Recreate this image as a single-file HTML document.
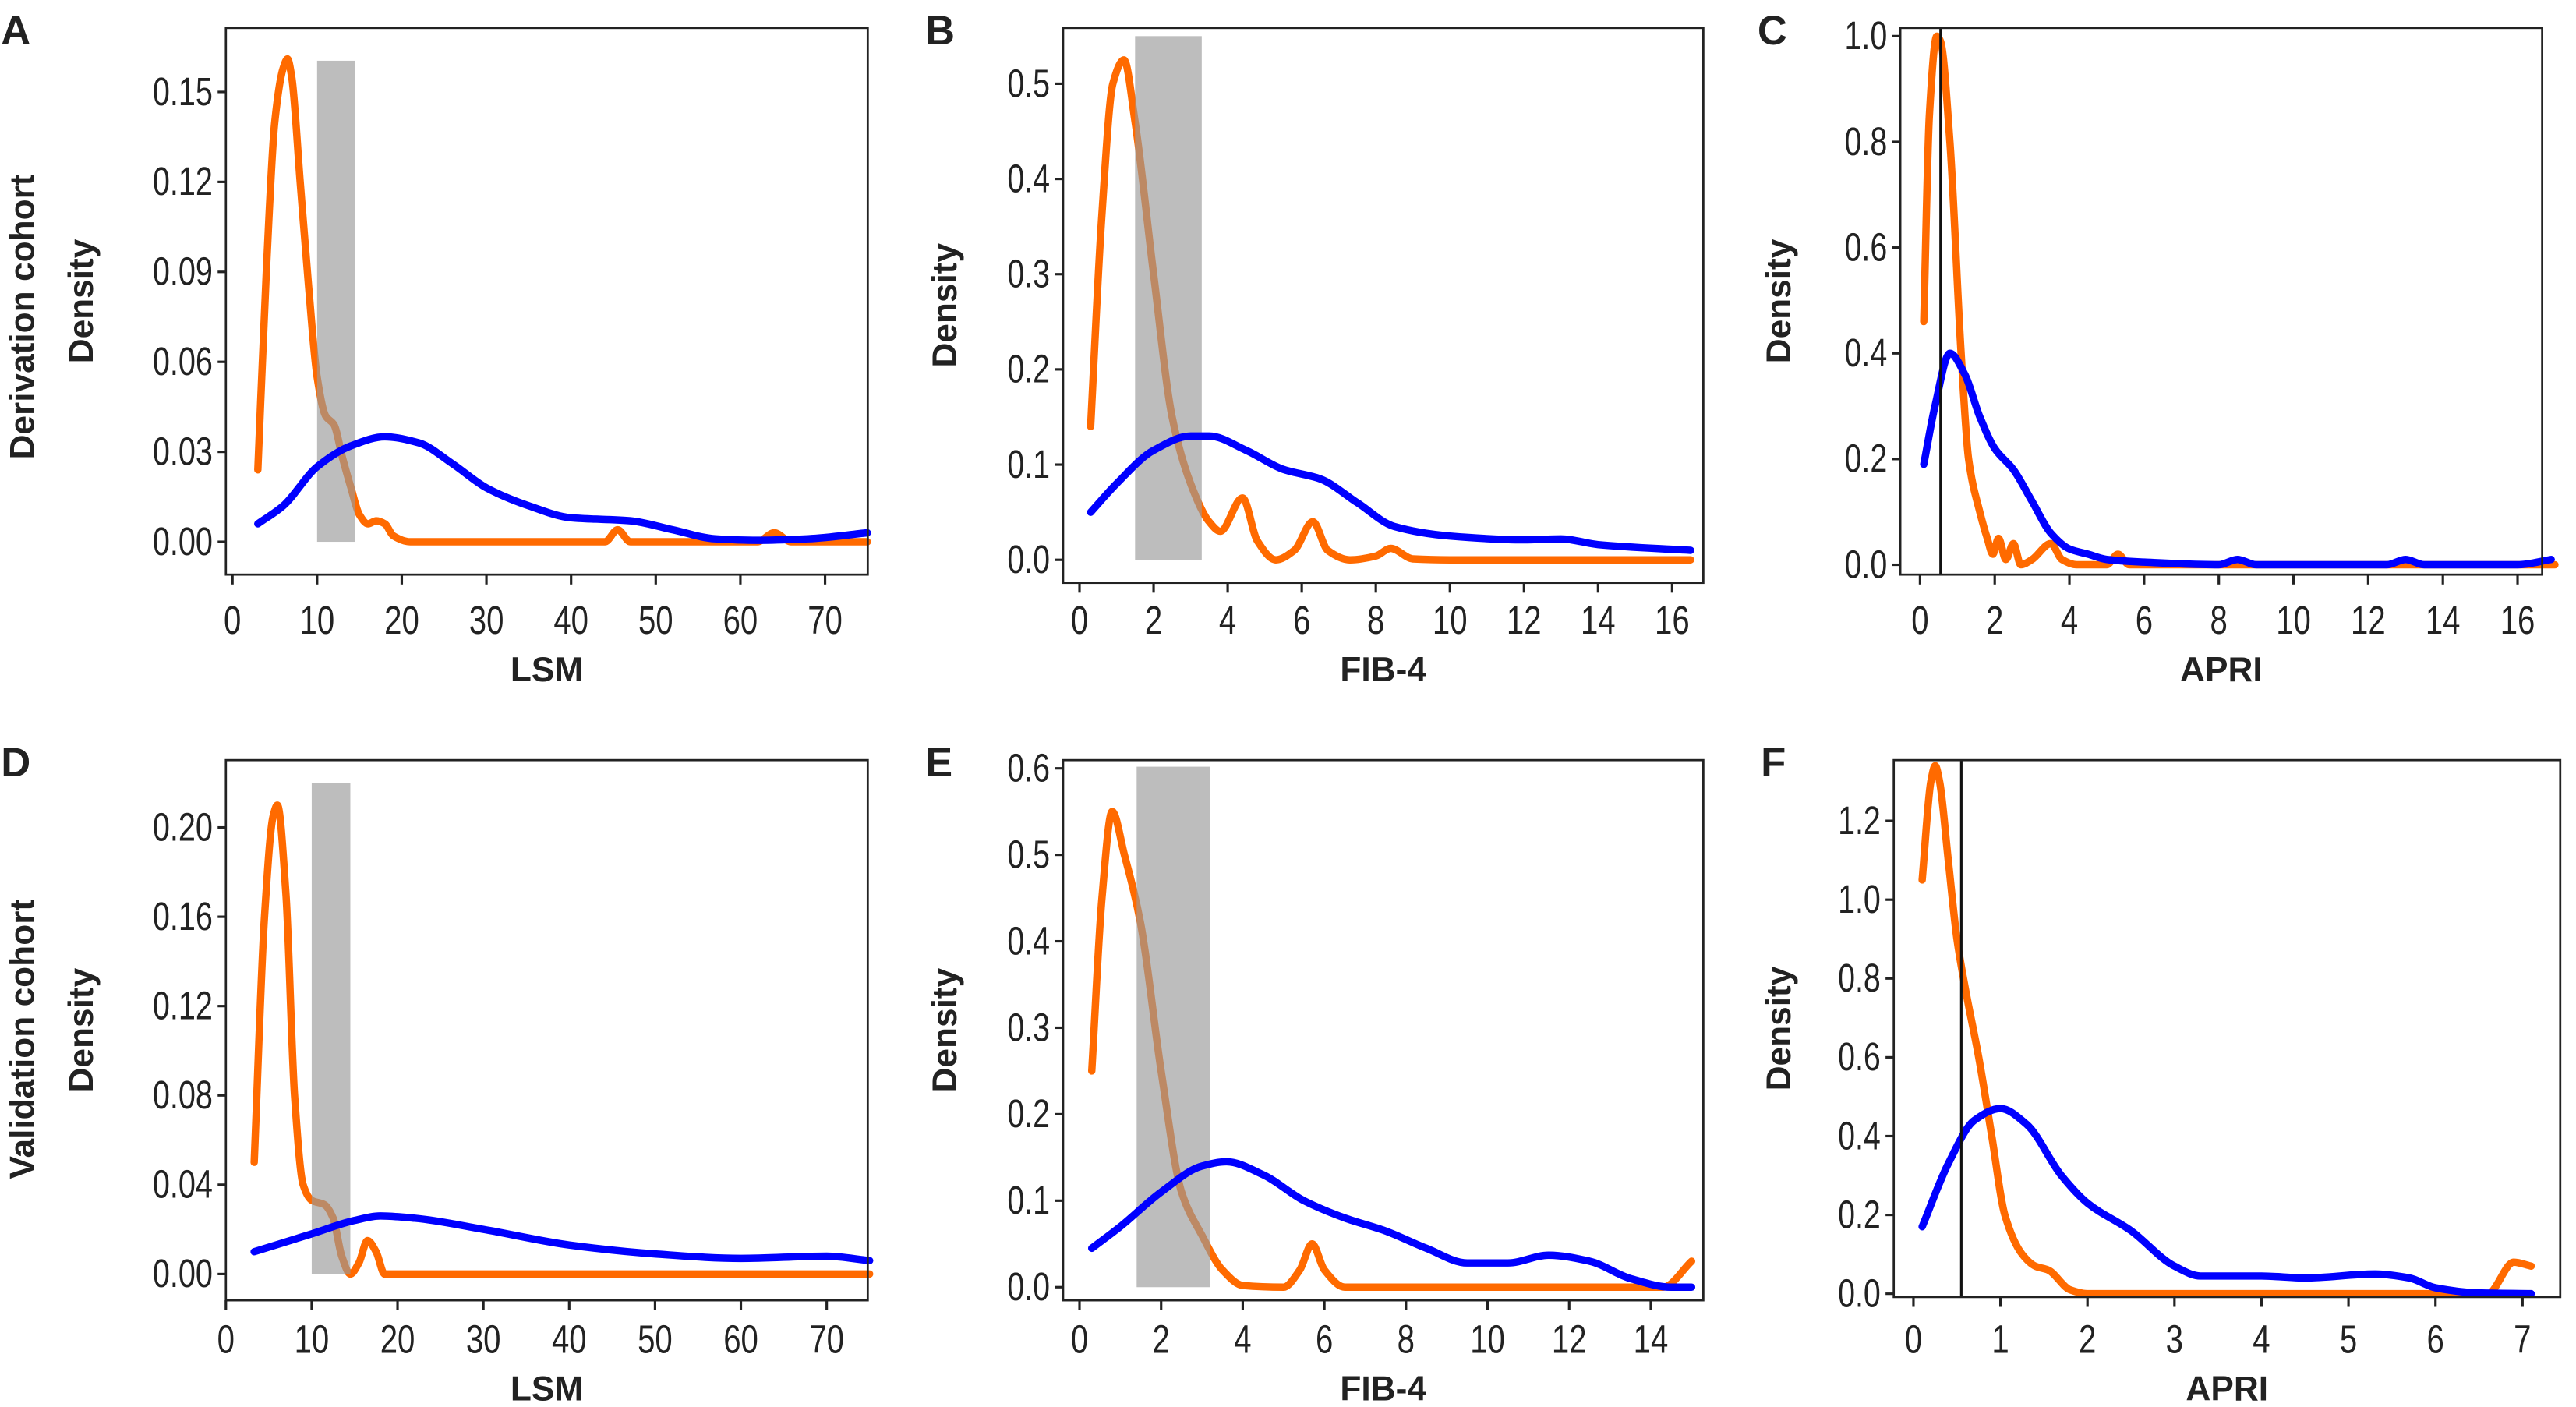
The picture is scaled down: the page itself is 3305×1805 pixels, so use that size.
<!DOCTYPE html>
<html><head><meta charset="utf-8"><style>
html,body{margin:0;padding:0;background:#fff;}
svg{display:block;}
text{font-family:"Liberation Sans",sans-serif;fill:#222;}
.b{font-family:"Liberation Sans",sans-serif;font-weight:bold;}
</style></head><body>
<svg id="s" width="3305" height="1805" viewBox="0 0 1568 857" xmlns="http://www.w3.org/2000/svg"></svg>
<script>
const NS="http://www.w3.org/2000/svg";
const S=document.getElementById('s');
function el(t,a,txt){const e=document.createElementNS(NS,t);for(const k in a)e.setAttribute(k,a[k]);if(txt!==undefined)e.textContent=txt;S.appendChild(e);return e;}
function path(p){const n=p.length;const d=[],m=[];
 for(let i=0;i<n-1;i++)d.push((p[i+1][1]-p[i][1])/(p[i+1][0]-p[i][0]));
 m[0]=d[0];m[n-1]=d[n-2];
 for(let i=1;i<n-1;i++){ if(d[i-1]*d[i]<=0)m[i]=0; else {const h0=p[i][0]-p[i-1][0],h1=p[i+1][0]-p[i][0];const w1=2*h1+h0,w2=h1+2*h0;m[i]=(w1+w2)/(w1/d[i-1]+w2/d[i]);}}
 let s="M"+p[0][0].toFixed(2)+","+p[0][1].toFixed(2);
 for(let i=0;i<n-1;i++){const h=(p[i+1][0]-p[i][0])/3;
  s+=" C"+(p[i][0]+h).toFixed(2)+","+(p[i][1]+m[i]*h).toFixed(2)+" "+(p[i+1][0]-h).toFixed(2)+","+(p[i+1][1]-m[i+1]*h).toFixed(2)+" "+p[i+1][0].toFixed(2)+","+p[i+1][1].toFixed(2);}
 return s;}
function lab(x,y,anchor,txt){const w=txt.split('').reduce((a,c)=>a+(c=='.'?4.8:10.6),0);
 el('text',{x:x,y:y,'text-anchor':anchor,'font-size':24,textLength:w,lengthAdjust:'spacingAndGlyphs'},txt);}
function panel(P){
 const X=v=>P.x0+(v-P.xa)*(P.x1-P.x0)/(P.xb-P.xa);
 const Y=v=>P.y0+(v-P.ya)*(P.y1-P.y0)/(P.yb-P.ya);
 el('path',{d:path(P.o.map(p=>[X(p[0]),Y(p[1])])),fill:'none',stroke:'#ff6a00','stroke-width':4.5,'stroke-linejoin':'round','stroke-linecap':'round'});
 if(P.g) el('rect',{x:X(P.g[0]),y:P.g[2],width:X(P.g[1])-X(P.g[0]),height:Y(0)-P.g[2],fill:'#999','fill-opacity':0.65});
 el('path',{d:path(P.bl.map(p=>[X(p[0]),Y(p[1])])),fill:'none',stroke:'#0000ff','stroke-width':4.5,'stroke-linejoin':'round','stroke-linecap':'round'});
 if(P.v!==undefined) el('line',{x1:X(P.v),x2:X(P.v),y1:P.bx[1],y2:P.bx[3],stroke:'#111','stroke-width':1.5});
 el('rect',{x:P.bx[0],y:P.bx[1],width:P.bx[2]-P.bx[0],height:P.bx[3]-P.bx[1],fill:'none',stroke:'#222','stroke-width':1.3});
 P.yt.forEach(t=>{const y=Y(t[0]);el('line',{x1:P.bx[0]-5,x2:P.bx[0],y1:y,y2:y,stroke:'#222','stroke-width':1.5});
  lab(P.bx[0]-8,y+8,'end',t[1]);});
 P.xt.forEach(t=>{const x=X(t);el('line',{x1:x,x2:x,y1:P.bx[3],y2:P.bx[3]+6,stroke:'#222','stroke-width':1.5});
  lab(x,P.tl,'middle',String(t));});
 el('text',{x:(P.bx[0]+P.bx[2])/2,y:P.tt,'text-anchor':'middle','font-size':21,class:'b'},P.xl);
 const dx=P.dx, dy=(P.bx[1]+P.bx[3])/2;
 el('text',{x:dx,y:dy,'text-anchor':'middle','font-size':21,class:'b',transform:`rotate(-90 ${dx} ${dy})`},'Density');
 el('text',{x:P.lx,y:P.ly,'font-size':25,class:'b'},P.L);
}
panel({L:'A',lx:0,ly:27,tl:386,tt:415,bx:[137,17,528,350],x0:141,x1:502,xa:0,xb:70,y0:330,y1:56,ya:0,yb:0.15,dx:56,
 yt:[[0,'0.00'],[0.03,'0.03'],[0.06,'0.06'],[0.09,'0.09'],[0.12,'0.12'],[0.15,'0.15']],xt:[0,10,20,30,40,50,60,70],xl:'LSM',
 g:[10,14.5,37],
 o:[[3,0.024],[4,0.09],[5,0.14],[6,0.158],[6.5,0.161],[7,0.155],[8,0.12],[9,0.085],[10,0.055],[11,0.042],[12,0.039],[13,0.028],[14,0.018],[15,0.009],[16,0.006],[17,0.007],[18,0.006],[19,0.002],[21,0],[44,0],[45.5,0.004],[47,0],[62,0],[64,0.003],[66,0],[75,0]],
 bl:[[3,0.006],[6,0.012],[10,0.025],[14,0.032],[18,0.035],[22,0.033],[26,0.026],[30,0.018],[35,0.012],[40,0.008],[47,0.007],[52,0.004],[57,0.001],[62,0.0005],[68,0.001],[75,0.003]]});
el('text',{x:20,y:193,'text-anchor':'middle','font-size':21,class:'b',transform:'rotate(-90 20 193)'},'Derivation cohort');
panel({L:'B',lx:563,ly:27,tl:386,tt:415,bx:[647,17,1037,355],x0:657,x1:1018,xa:0,xb:16,y0:341,y1:51,ya:0,yb:0.5,dx:582,
 yt:[[0,'0.0'],[0.1,'0.1'],[0.2,'0.2'],[0.3,'0.3'],[0.4,'0.4'],[0.5,'0.5']],xt:[0,2,4,6,8,10,12,14,16],xl:'FIB-4',
 g:[1.5,3.3,22],
 o:[[0.3,0.14],[0.6,0.36],[0.9,0.5],[1.2,0.525],[1.5,0.46],[2,0.3],[2.5,0.15],[3,0.08],[3.5,0.04],[3.8,0.03],[4.4,0.065],[4.8,0.02],[5.3,0.0],[5.8,0.01],[6.3,0.04],[6.7,0.01],[7.3,0],[8,0.004],[8.4,0.012],[9,0.001],[10,0],[16.5,0]],
 bl:[[0.3,0.05],[1,0.08],[2,0.115],[3,0.13],[3.5,0.13],[4.5,0.115],[5.5,0.095],[6.5,0.085],[7.5,0.06],[8.5,0.035],[10,0.025],[12,0.021],[13,0.022],[14,0.016],[16.5,0.01]]});
panel({L:'C',lx:1070,ly:27,tl:386,tt:415,bx:[1157,17,1548,350],x0:1169,x1:1533,xa:0,xb:16,y0:344,y1:22,ya:0,yb:1.0,dx:1090,
 yt:[[0,'0.0'],[0.2,'0.2'],[0.4,'0.4'],[0.6,'0.6'],[0.8,'0.8'],[1.0,'1.0']],xt:[0,2,4,6,8,10,12,14,16],xl:'APRI',
 v:0.55,
 o:[[0.1,0.46],[0.25,0.85],[0.45,1.0],[0.55,0.99],[0.8,0.8],[1.1,0.4],[1.3,0.2],[1.6,0.1],[1.8,0.05],[1.95,0.02],[2.1,0.05],[2.3,0.01],[2.5,0.04],[2.7,0.0],[3,0.01],[3.5,0.04],[3.8,0.01],[4.2,0],[5,0.0],[5.3,0.02],[5.6,0],[17,0]],
 bl:[[0.1,0.19],[0.4,0.3],[0.8,0.4],[1.2,0.36],[1.6,0.28],[2,0.22],[2.5,0.18],[3,0.12],[3.5,0.06],[4,0.03],[4.5,0.02],[5,0.01],[6,0.005],[8,0.0],[8.5,0.01],[9,0],[12.5,0],[13,0.01],[13.5,0],[16,0],[16.9,0.01]]});
panel({L:'D',lx:0,ly:473,tl:824,tt:853,bx:[137,463,528,792],x0:137,x1:503,xa:0,xb:70,y0:776,y1:504,ya:0,yb:0.2,dx:56,
 yt:[[0,'0.00'],[0.04,'0.04'],[0.08,'0.08'],[0.12,'0.12'],[0.16,'0.16'],[0.2,'0.20']],xt:[0,10,20,30,40,50,60,70],xl:'LSM',
 g:[10,14.5,477],
 o:[[3.3,0.05],[4.5,0.16],[5.5,0.205],[6,0.21],[7,0.17],[8,0.08],[9,0.04],[10,0.033],[11.5,0.031],[12.5,0.025],[13.5,0.008],[14.5,0],[15.5,0.005],[16.5,0.015],[17.5,0.01],[18.5,0],[20,0],[75,0]],
 bl:[[3.3,0.01],[10,0.018],[15,0.024],[18,0.026],[22,0.025],[30,0.02],[40,0.013],[50,0.009],[60,0.007],[70,0.008],[75,0.006]]});
el('text',{x:20,y:633,'text-anchor':'middle','font-size':21,class:'b',transform:'rotate(-90 20 633)'},'Validation cohort');
panel({L:'E',lx:563,ly:473,tl:824,tt:853,bx:[647,463,1037,792],x0:657,x1:1005,xa:0,xb:14,y0:784,y1:468,ya:0,yb:0.6,dx:582,
 yt:[[0,'0.0'],[0.1,'0.1'],[0.2,'0.2'],[0.3,'0.3'],[0.4,'0.4'],[0.5,'0.5'],[0.6,'0.6']],xt:[0,2,4,6,8,10,12,14],xl:'FIB-4',
 g:[1.4,3.2,467],
 o:[[0.3,0.25],[0.55,0.45],[0.8,0.55],[1.1,0.5],[1.5,0.42],[2,0.25],[2.5,0.11],[3,0.06],[3.5,0.02],[4,0.002],[5,0],[5.4,0.02],[5.7,0.05],[6,0.02],[6.5,0],[14.3,0],[15,0.03]],
 bl:[[0.3,0.045],[1,0.07],[2,0.11],[3,0.14],[3.6,0.145],[4.5,0.13],[5.5,0.1],[6.5,0.08],[7.5,0.065],[8.5,0.045],[9.5,0.028],[10.5,0.028],[11.5,0.037],[12.5,0.03],[13.5,0.01],[14.5,0.0],[15,0]]});
panel({L:'F',lx:1072,ly:473,tl:824,tt:853,bx:[1153,463,1559,790],x0:1165,x1:1536,xa:0,xb:7,y0:788,y1:500,ya:0,yb:1.2,dx:1090,
 yt:[[0,'0.0'],[0.2,'0.2'],[0.4,'0.4'],[0.6,'0.6'],[0.8,'0.8'],[1.0,'1.0'],[1.2,'1.2']],xt:[0,1,2,3,4,5,6,7],xl:'APRI',
 v:0.55,
 o:[[0.1,1.05],[0.2,1.3],[0.25,1.34],[0.3,1.3],[0.4,1.1],[0.5,0.9],[0.6,0.77],[0.75,0.6],[0.9,0.4],[1.05,0.2],[1.25,0.1],[1.4,0.07],[1.55,0.06],[1.8,0.01],[2,0],[6.6,0],[6.9,0.08],[7.1,0.07]],
 bl:[[0.1,0.17],[0.4,0.33],[0.7,0.44],[1,0.47],[1.3,0.43],[1.7,0.3],[2,0.23],[2.5,0.16],[3,0.07],[3.3,0.045],[4,0.045],[4.5,0.04],[5.3,0.05],[5.7,0.04],[6,0.015],[6.5,0.002],[7.1,0]]});
</script>
</body></html>
